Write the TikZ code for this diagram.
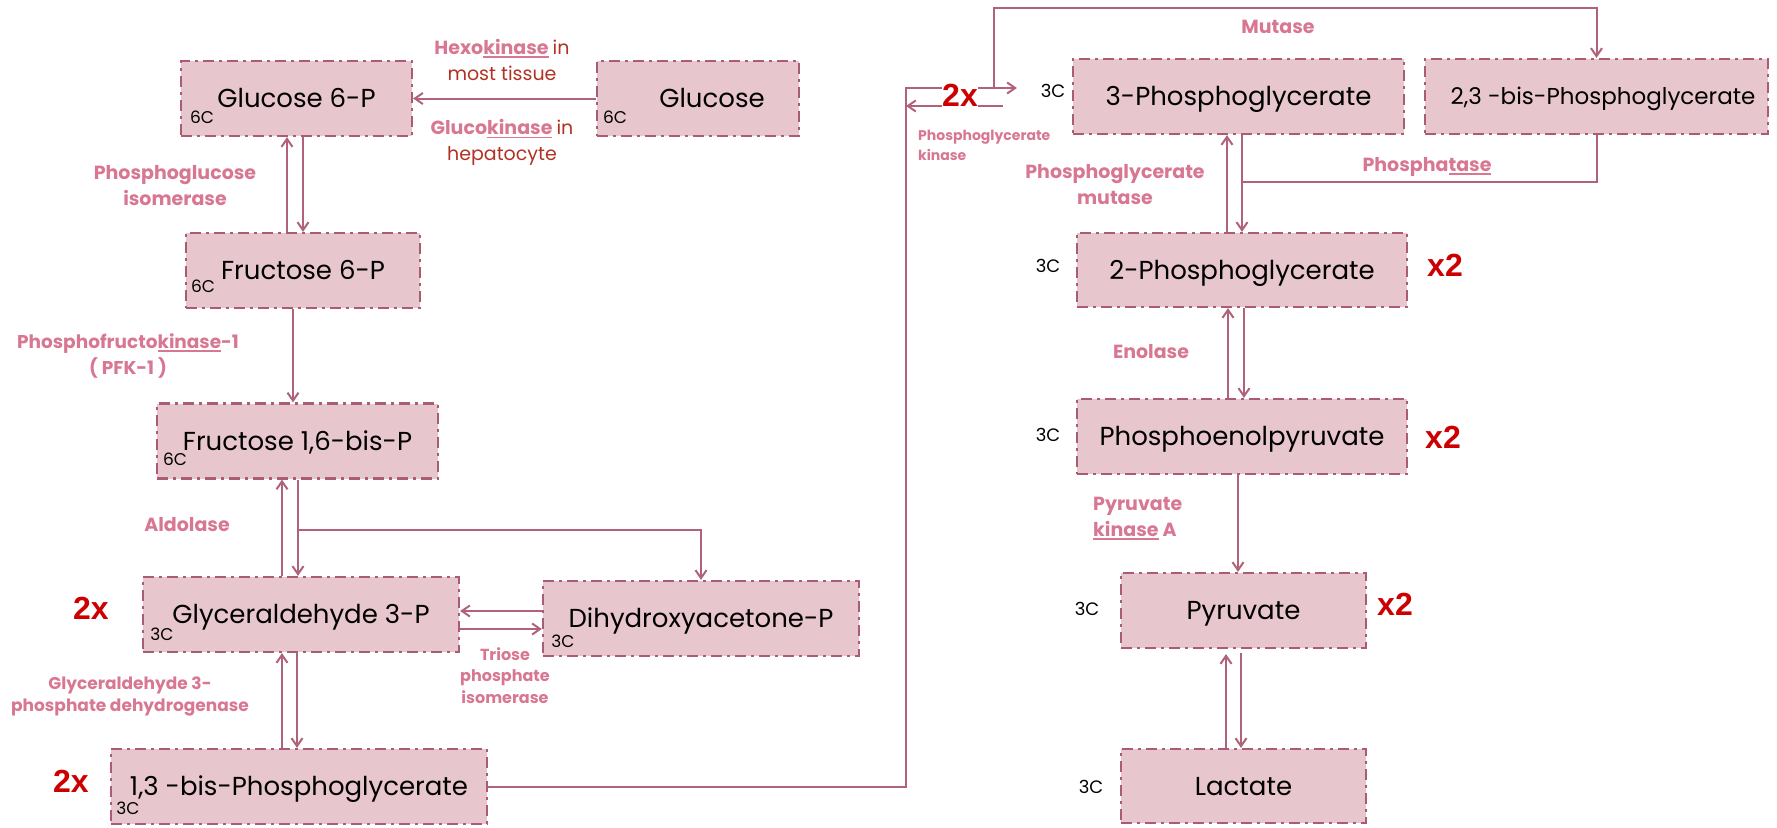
\documentclass[tikz,border=0pt]{standalone}
\usepackage{fontspec}
\setmainfont{Poppins}
\newfontfamily\arialfont{Liberation Sans}
\newcommand{\myul}[1]{\setbox0\hbox{#1}\rlap{\rule[-3.5pt]{\wd0}{1.6pt}}\box0\relax}
\usetikzlibrary{arrows.meta,calc}
\definecolor{boxfill}{RGB}{232,198,206}
\definecolor{boxline}{RGB}{170,92,117}
\definecolor{conn}{RGB}{176,98,122}
\definecolor{enz}{RGB}{215,119,146}
\definecolor{dred}{RGB}{176,50,36}
\definecolor{twox}{RGB}{204,0,0}
\begin{document}
\begin{tikzpicture}[x=1pt,y=-1pt,
  box/.style={draw=boxline, fill=boxfill, line width=2.2pt,
    dash pattern=on 11pt off 5pt on 3pt off 5pt, inner sep=0pt,
    minimum height=75pt, text height=18.5pt, text depth=0pt,
    font=\fontsize{26}{30}\selectfont, text=black},
  arr/.style={draw=conn, line width=2pt, -{Straight Barb[length=8pt,width=11pt,line width=2pt]}},
  ln/.style={draw=conn, line width=2pt},
  cc/.style={font=\fontsize{17}{20}\selectfont, inner sep=0pt, text=black},
  cr/.style={font=\fontsize{18}{20}\selectfont, inner sep=0pt, text=black},
  enzl/.style={font=\bfseries\fontsize{19}{26}\selectfont, text=enz, align=center, inner sep=0pt},
  mult/.style={font=\arialfont\bfseries\fontsize{32}{34}\selectfont, text=twox, inner sep=0pt},
]
\useasboundingbox (0,0) rectangle (1777,827);

% boxes
\node[box, minimum width=231pt] (g6p) at (296.5,98.5) {Glucose 6-P};
\node[box, minimum width=202pt] (glc) at (698,98.5) {\hspace*{28pt}Glucose};
\node[box, minimum width=234pt] (f6p) at (303,270.5) {Fructose 6-P};
\node[box, minimum width=281pt] (f16) at (297.5,441) {Fructose 1,6-bis-P};
\node[box, minimum width=316pt] (ga3p) at (301,614.5) {Glyceraldehyde 3-P};
\node[box, minimum width=316pt] (dhap) at (701,618.5) {Dihydroxyacetone-P};
\node[box, minimum width=376pt] (bpg13) at (299,786.5) {1,3 -bis-Phosphoglycerate};
\node[box, minimum width=331pt] (pg3) at (1238.5,96.5) {3-Phosphoglycerate};
\node[box, minimum width=343pt, font=\fontsize{23}{26}\selectfont, text height=16.5pt] (bpg23) at (1596.5,96.5) {\hspace*{13pt}2,3 -bis-Phosphoglycerate};
\node[box, minimum width=330pt, minimum height=74pt] (pg2) at (1242,270) {2-Phosphoglycerate};
\node[box, minimum width=330pt] (pep) at (1242,436.5) {Phosphoenolpyruvate};
\node[box, minimum width=245pt] (pyr) at (1243.5,610.5) {Pyruvate};
\node[box, minimum width=245pt, minimum height=74pt] (lac) at (1243.5,786) {Lactate};

% carbon counts
\node[cc] (g6pc) at (202,117) {6C};
\node[cc] (glcc) at (615,117) {6C};
\node[cc] (f6pc) at (203,286) {6C};
\node[cc] (f16c) at (175,459) {6C};
\node[cc] (ga3pc) at (162,634) {3C};
\node[cc] (dhapc) at (563,641) {3C};
\node[cc] (bpg13c) at (128,808) {3C};
\node[cr] (pg3c) at (1053,91) {3C};
\node[cr] (pg2c) at (1048,266) {3C};
\node[cr] (pepc) at (1048,435) {3C};
\node[cr] (pyrc) at (1087,609) {3C};
\node[cr] (lacc) at (1091,787) {3C};

% helper coordinates
\coordinate (pgkTop) at (906,88);
\coordinate (pgkRet) at (906,106);
\coordinate (mutL) at (994,88);
\coordinate (mutTop) at (994,8);
\coordinate (phJ) at (1242,182);
\coordinate (aldJ) at (298,530);

% connectors
\draw[arr] (glc.west) -- (g6p.east);
\draw[arr] ([xshift=-16pt]f6p.north) -- ([xshift=-9.5pt]g6p.south);
\draw[arr] ([xshift=6.5pt]g6p.south) -- (f6p.north);
\draw[arr] ([xshift=-10pt]f6p.south) -- ([xshift=-4.5pt]f16.north);
\draw[arr] ([xshift=-19pt]ga3p.north) -- ([xshift=-15.5pt]f16.south);
\draw[arr] ([xshift=0.5pt]f16.south) -- ([xshift=-3pt]ga3p.north);
\draw[arr] (aldJ) -| (dhap.north);
\draw[arr] ([yshift=7.5pt]dhap.west) -- ([yshift=3.5pt]ga3p.east);
\draw[arr] ([yshift=-14.5pt]ga3p.east) -- ([yshift=-10.5pt]dhap.west);
\draw[arr] ([xshift=-17pt]bpg13.north) -- ([xshift=-19pt]ga3p.south);
\draw[arr] ([xshift=-4pt]ga3p.south) -- ([xshift=-2pt]bpg13.north);
\draw[arr, shorten >=55pt] (bpg13.east) -| (pgkTop) -- ([yshift=8.5pt]pg3.west);
\draw[arr, shorten <=69pt] ([yshift=-9.5pt]pg3.west) -- (pgkRet);
\draw[arr] (mutL) -- (mutTop) -| (bpg23.north);
\draw[arr] ([xshift=-15pt]pg2.north) -- ([xshift=-11.5pt]pg3.south);
\draw[arr] ([xshift=3.5pt]pg3.south) -- (pg2.north);
\draw[ln] (bpg23.south) |- (phJ);
\draw[arr] ([xshift=-14pt]pep.north) -- ([xshift=-14pt]pg2.south);
\draw[arr] ([xshift=2pt]pg2.south) -- ([xshift=2pt]pep.north);
\draw[arr] ([xshift=-4pt]pep.south) -- ([xshift=-5.5pt]pyr.north);
\draw[arr, shorten >=5pt] ([xshift=-17.5pt]lac.north) -- ([xshift=-17.5pt]pyr.south);
\draw[arr, shorten <=4pt] ([xshift=-2.5pt]pyr.south) -- ([xshift=-2.5pt]lac.north);

% multipliers
\node[mult, fill=white, minimum height=28pt] (m1) at (960,95) {2x};
\node[mult] (m2) at (91,608) {2x};
\node[mult] (m3) at (71,781) {2x};
\node[mult] (x1) at (1445,265) {x2};
\node[mult] (x2) at (1443,437) {x2};
\node[mult] (x3) at (1395,604) {x2};

% enzyme labels
\node[enzl] (hexo) at (502,60) {Hexo\myul{kinase} {\mdseries\color{dred}in}\\{\mdseries\color{dred}most tissue}};
\node[enzl] (gluco) at (502,142.5) {Gluco\myul{kinase} {\mdseries\color{dred}in}\\{\mdseries\color{dred}hepatocyte}};
\node[enzl] (pgi) at (175,186) {Phosphoglucose\\isomerase};
\node[enzl, font=\bfseries\fontsize{18.5}{26}\selectfont] (pfk) at (128,356) {Phosphofructo\myul{kinase}-1\\( PFK-1 )};
\node[enzl] (aldo) at (187,525) {Aldolase};
\node[enzl, font=\bfseries\fontsize{17}{22}\selectfont] (gapdh) at (130,696) {Glyceraldehyde 3-\\phosphate dehydrogenase};
\node[enzl, font=\bfseries\fontsize{16}{21.5}\selectfont] (tpi) at (505,675.5) {Triose\\phosphate\\isomerase};
\node[enzl, font=\bfseries\fontsize{14}{20}\selectfont, align=left, anchor=west] (pgk) at (918,145) {Phosphoglycerate\\kinase};
\node[enzl] (mut) at (1278,27) {Mutase};
\node[enzl] (pgm) at (1115,184.5) {Phosphoglycerate\\mutase};
\node[enzl] (phos) at (1427,167) {Phospha\myul{tase}};
\node[enzl] (eno) at (1151,352) {Enolase};
\node[enzl, align=left, anchor=west] (pk) at (1093,518.5) {Pyruvate\\\myul{kinase} A};
\end{tikzpicture}
\end{document}
